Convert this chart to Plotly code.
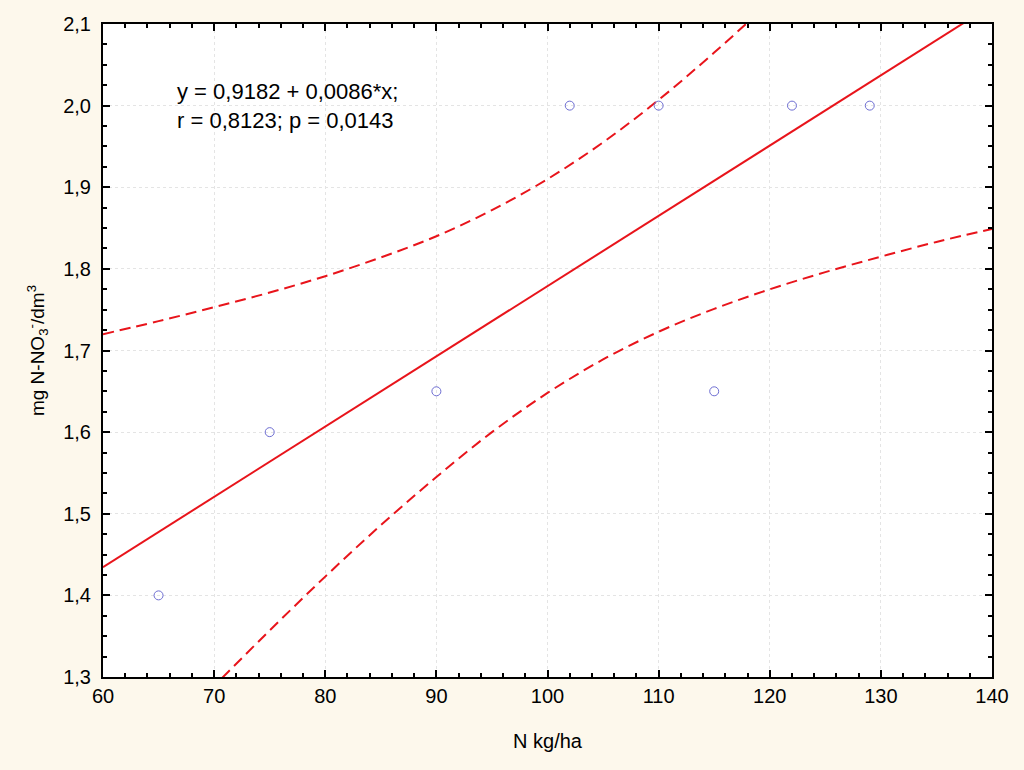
import plotly.graph_objects as go

# Observed data points
x_pts = [65, 75, 90, 102, 110, 115, 122, 129]
y_pts = [1.40, 1.60, 1.65, 2.00, 2.00, 1.65, 2.00, 2.00]

x_fit = [60, 140]
y_fit = [1.4346, 2.1232]

# Confidence band
x_band = [60, 65, 70, 75, 80, 85, 90, 95, 100, 105, 110, 115, 120, 125, 130, 135, 140]
y_upper = [1.720, 1.736, 1.753, 1.771, 1.791, 1.814, 1.840, 1.872, 1.910, 1.955, 2.007, 2.065, 2.127, 2.192, 2.259, 2.328, 2.397]
y_lower = [1.150, 1.220, 1.289, 1.357, 1.423, 1.486, 1.545, 1.600, 1.648, 1.689, 1.723, 1.751, 1.775, 1.796, 1.815, 1.833, 1.849]

RED = "#E8141B"
FONT = "Liberation Sans, Arial, sans-serif"
BG = "#FDF8EC"

fig = go.Figure()
fig.add_trace(go.Scatter(x=x_band, y=y_upper, mode="lines", line=dict(color=RED, width=2, dash="11px,6px", shape="spline"), hoverinfo="skip"))
fig.add_trace(go.Scatter(x=x_band, y=y_lower, mode="lines", line=dict(color=RED, width=2, dash="11px,6px", shape="spline"), hoverinfo="skip"))
fig.add_trace(go.Scatter(x=x_fit, y=y_fit, mode="lines", line=dict(color=RED, width=2)))
fig.add_trace(go.Scatter(x=x_pts, y=y_pts, mode="markers",
                         marker=dict(symbol="circle-open", size=9, color="#6E6ED2", line=dict(width=1))))

fig.add_annotation(x=0.081, xref="paper", y=2.0, yref="y", yanchor="middle", xanchor="left",
                   text="y = 0,9182 + 0,0086*x;<br>r = 0,8123; p = 0,0143",
                   showarrow=False, align="left", font=dict(family=FONT, size=22, color="black"))

axis_common = dict(
    tickmode="linear",
    showline=True, linecolor="black", linewidth=2, mirror="ticks",
    ticks="inside", ticklen=7, tickwidth=2, tickcolor="black",
    showgrid=True, gridcolor="#E4E4E4", griddash="dot", gridwidth=1,
    zeroline=False, tickfont=dict(family=FONT, size=20, color="black"),
)

fig.update_xaxes(range=[60, 140], tick0=60, dtick=10, **axis_common,
                 minor=dict(ticks="inside", ticklen=4, tickwidth=2, tickcolor="black", dtick=2, showgrid=False),
                 title=dict(text="N kg/ha", font=dict(family=FONT, size=20, color="black"), standoff=28))
fig.update_yaxes(range=[1.3, 2.1], tick0=1.3, dtick=0.1, tickformat=".1f", **axis_common,
                 minor=dict(ticks="inside", ticklen=4, tickwidth=2, tickcolor="black", dtick=0.025, showgrid=False),
                 ticklabelstandoff=6,
                 title=dict(text="mg N-NO<sub>3</sub><sup>-</sup>/dm<sup>3</sup>", font=dict(family=FONT, size=19, color="black"), standoff=14))

fig.update_layout(
    width=1024, height=770,
    margin=dict(l=103, r=32, t=24, b=93),
    paper_bgcolor=BG, plot_bgcolor="white",
    showlegend=False, separators=", ",
)

fig.write_html("out.html", config={"displayModeBar": False},
               post_script="document.body.style.margin='0';document.body.style.background='%s';" % BG)
